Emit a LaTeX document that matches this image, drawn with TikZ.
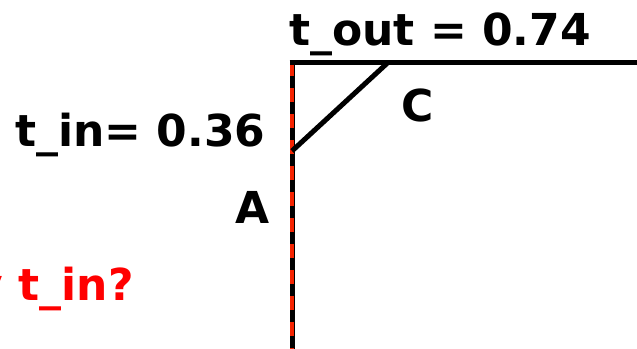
\documentclass[tikz,border=0pt]{standalone}
\usepackage{fontspec}
\setmainfont{DejaVu Sans}
\begin{document}
\begin{tikzpicture}[x=1pt,y=-1pt,
  lbl/.style={inner sep=0pt,font=\fontsize{44}{48}\selectfont\bfseries},
  edge/.style={line width=5pt,black},
  redlbl/.style={lbl,text={rgb,255:red,255;green,0;blue,0}}]
\useasboundingbox (0,0) rectangle (637,348);
\coordinate (top) at (292,60);
\coordinate (bot) at (292,350);
\coordinate (corner) at (289.5,62.5);
\coordinate (right) at (640,62.5);
\coordinate (tin) at (292,151);
\coordinate (tout) at (388,62.5);
\draw[edge] (top) -- (bot);
\draw[line width=3.5pt,draw={rgb,255:red,245;green,35;blue,0},dash pattern=on 14pt off 12pt,dash phase=-2pt] (top) -- (bot);
\draw[edge] (corner) -- (right);
\draw[edge] (tin) -- (tout);
\node[lbl,anchor=base west] (lout) at (289,45) {t\_out = 0.74};
\node[lbl,anchor=base west] (lin) at (15,146) {t\_in= 0.36};
\node[lbl] (C) at (418,105) {C};
\node[lbl] (A) at (253,207) {A};
\node[redlbl,anchor=base east] (q) at (134,300) {y t\_in?};
\end{tikzpicture}
\end{document}
